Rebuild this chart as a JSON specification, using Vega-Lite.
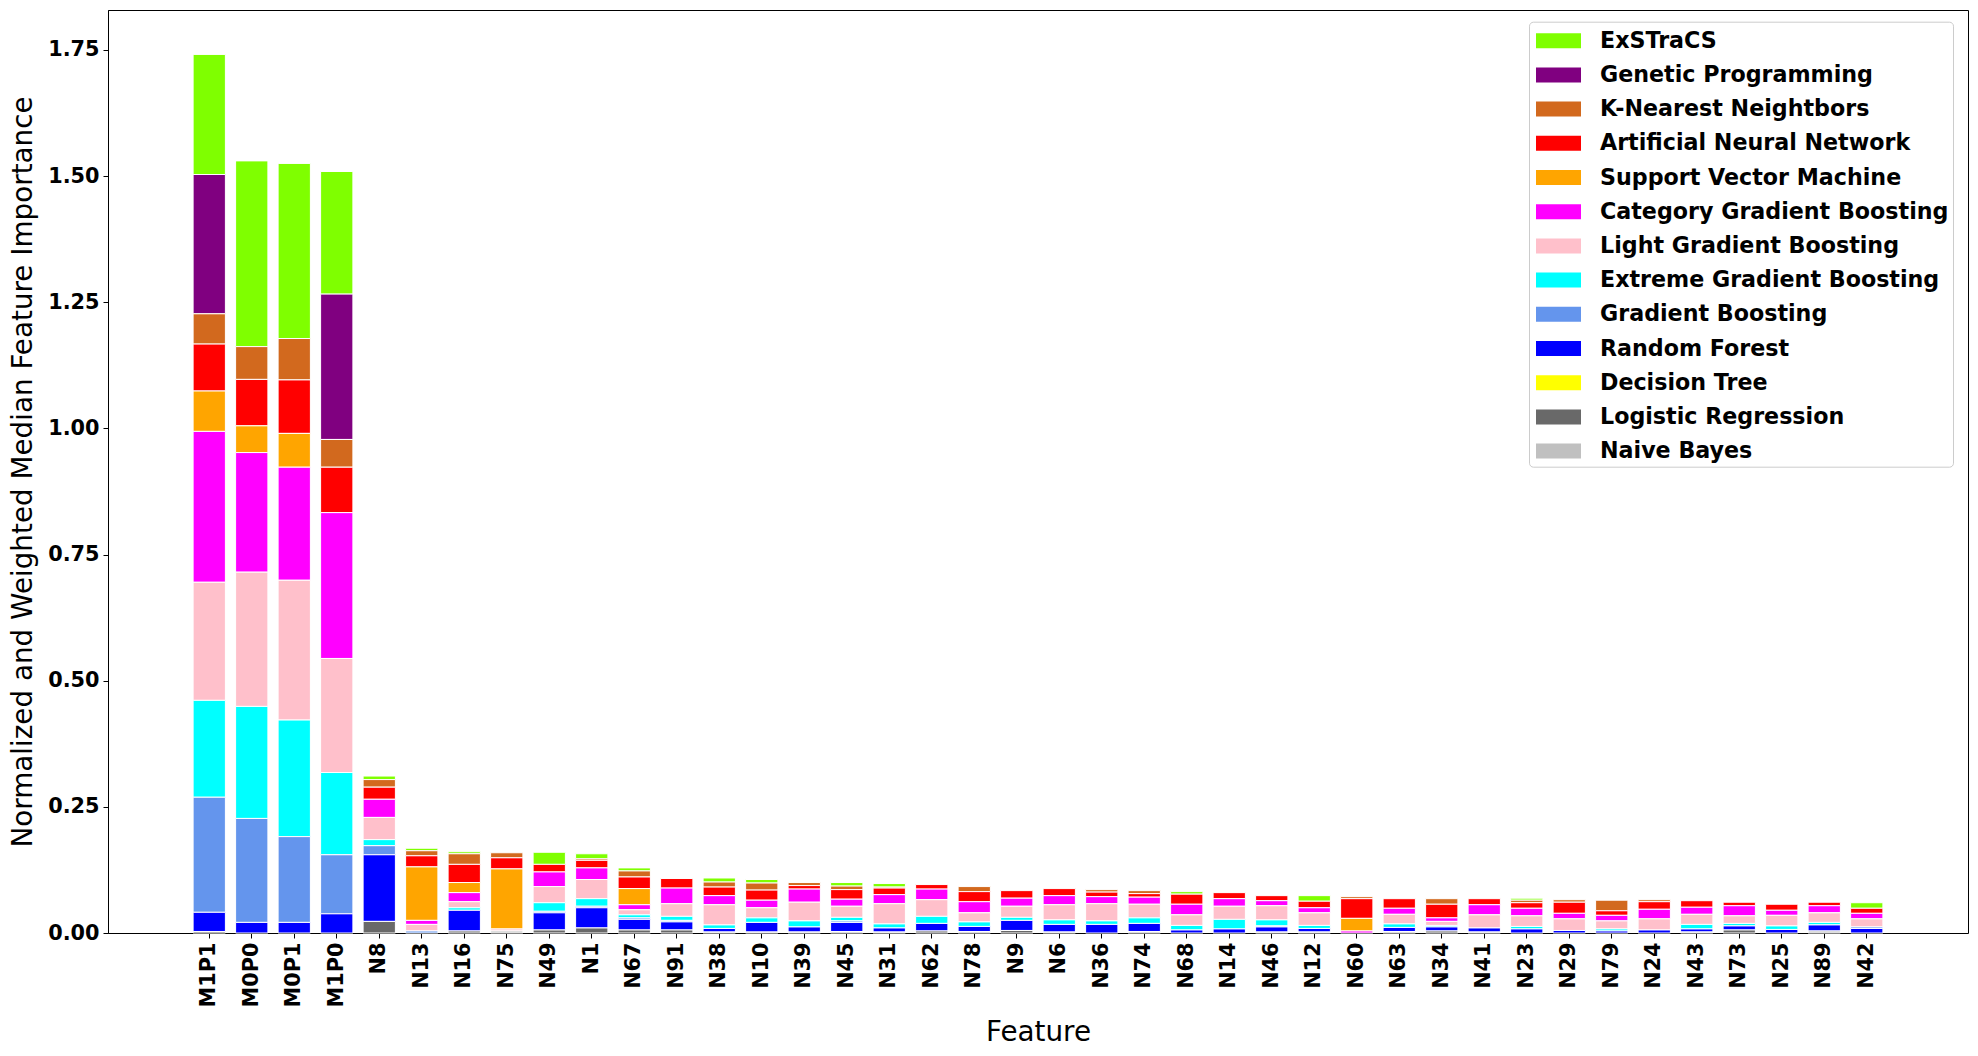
{
  "$schema": "https://vega.github.io/schema/vega-lite/v6.json",
  "width": 1860,
  "height": 923,
  "autosize": {"type": "none"},
  "padding": {"left": 108, "top": 10, "right": 10, "bottom": 123},
  "background": "white",
  "config": {
    "font": "DejaVu Sans",
    "view": {"stroke": "black", "strokeWidth": 1},
    "axis": {"grid": false, "domainColor": "black", "tickColor": "black", "labelColor": "black", "titleColor": "black", "labelFont": "DejaVu Sans", "titleFont": "DejaVu Sans", "labelFontWeight": "bold", "labelFontSize": 20.8, "titleFontSize": 27.8, "titleFontWeight": "normal", "tickSize": 5}
  },
  "datasets": {
    "stackorder": [
      {"Algorithm": "Naive Bayes", "Rank": 1},
      {"Algorithm": "Logistic Regression", "Rank": 2},
      {"Algorithm": "Decision Tree", "Rank": 3},
      {"Algorithm": "Random Forest", "Rank": 4},
      {"Algorithm": "Gradient Boosting", "Rank": 5},
      {"Algorithm": "Extreme Gradient Boosting", "Rank": 6},
      {"Algorithm": "Light Gradient Boosting", "Rank": 7},
      {"Algorithm": "Category Gradient Boosting", "Rank": 8},
      {"Algorithm": "Support Vector Machine", "Rank": 9},
      {"Algorithm": "Artificial Neural Network", "Rank": 10},
      {"Algorithm": "K-Nearest Neightbors", "Rank": 11},
      {"Algorithm": "Genetic Programming", "Rank": 12},
      {"Algorithm": "ExSTraCS", "Rank": 13}
    ]
  },
  "data": {"values": [
    {"Feature": "M1P1", "Logistic Regression": 0.003, "Random Forest": 0.038, "Gradient Boosting": 0.228, "Extreme Gradient Boosting": 0.192, "Light Gradient Boosting": 0.234, "Category Gradient Boosting": 0.299, "Support Vector Machine": 0.080, "Artificial Neural Network": 0.093, "K-Nearest Neightbors": 0.060, "Genetic Programming": 0.276, "ExSTraCS": 0.238},
    {"Feature": "M0P0", "Random Forest": 0.021, "Gradient Boosting": 0.206, "Extreme Gradient Boosting": 0.222, "Light Gradient Boosting": 0.266, "Category Gradient Boosting": 0.237, "Support Vector Machine": 0.053, "Artificial Neural Network": 0.092, "K-Nearest Neightbors": 0.065, "ExSTraCS": 0.368},
    {"Feature": "M0P1", "Random Forest": 0.021, "Gradient Boosting": 0.170, "Extreme Gradient Boosting": 0.231, "Light Gradient Boosting": 0.277, "Category Gradient Boosting": 0.224, "Support Vector Machine": 0.067, "Artificial Neural Network": 0.106, "K-Nearest Neightbors": 0.082, "ExSTraCS": 0.347},
    {"Feature": "M1P0", "Random Forest": 0.038, "Gradient Boosting": 0.117, "Extreme Gradient Boosting": 0.163, "Light Gradient Boosting": 0.226, "Category Gradient Boosting": 0.289, "Artificial Neural Network": 0.090, "K-Nearest Neightbors": 0.055, "Genetic Programming": 0.288, "ExSTraCS": 0.243},
    {"Feature": "N8", "Logistic Regression": 0.023, "Random Forest": 0.132, "Gradient Boosting": 0.018, "Extreme Gradient Boosting": 0.012, "Light Gradient Boosting": 0.044, "Category Gradient Boosting": 0.036, "Artificial Neural Network": 0.024, "K-Nearest Neightbors": 0.015, "ExSTraCS": 0.007},
    {"Feature": "N13", "Gradient Boosting": 0.004, "Light Gradient Boosting": 0.013, "Category Gradient Boosting": 0.008, "Support Vector Machine": 0.106, "Artificial Neural Network": 0.022, "K-Nearest Neightbors": 0.010, "ExSTraCS": 0.005},
    {"Feature": "N16", "Logistic Regression": 0.004, "Random Forest": 0.041, "Extreme Gradient Boosting": 0.005, "Light Gradient Boosting": 0.012, "Category Gradient Boosting": 0.018, "Support Vector Machine": 0.020, "Artificial Neural Network": 0.036, "K-Nearest Neightbors": 0.021, "ExSTraCS": 0.004},
    {"Feature": "N75", "Naive Bayes": 0.004, "Light Gradient Boosting": 0.004, "Support Vector Machine": 0.119, "Artificial Neural Network": 0.022, "K-Nearest Neightbors": 0.010},
    {"Feature": "N49", "Logistic Regression": 0.006, "Random Forest": 0.034, "Gradient Boosting": 0.003, "Extreme Gradient Boosting": 0.017, "Light Gradient Boosting": 0.032, "Category Gradient Boosting": 0.029, "Artificial Neural Network": 0.015, "ExSTraCS": 0.024},
    {"Feature": "N1", "Logistic Regression": 0.010, "Random Forest": 0.040, "Gradient Boosting": 0.003, "Extreme Gradient Boosting": 0.015, "Light Gradient Boosting": 0.038, "Category Gradient Boosting": 0.023, "Artificial Neural Network": 0.015, "K-Nearest Neightbors": 0.003, "ExSTraCS": 0.010},
    {"Feature": "N67", "Logistic Regression": 0.006, "Random Forest": 0.021, "Gradient Boosting": 0.003, "Extreme Gradient Boosting": 0.006, "Light Gradient Boosting": 0.010, "Category Gradient Boosting": 0.010, "Support Vector Machine": 0.032, "Artificial Neural Network": 0.023, "K-Nearest Neightbors": 0.012, "ExSTraCS": 0.006},
    {"Feature": "N91", "Logistic Regression": 0.006, "Random Forest": 0.016, "Gradient Boosting": 0.003, "Extreme Gradient Boosting": 0.008, "Light Gradient Boosting": 0.025, "Category Gradient Boosting": 0.031, "Artificial Neural Network": 0.019},
    {"Feature": "N38", "Naive Bayes": 0.002, "Random Forest": 0.007, "Extreme Gradient Boosting": 0.007, "Light Gradient Boosting": 0.040, "Category Gradient Boosting": 0.018, "Artificial Neural Network": 0.017, "K-Nearest Neightbors": 0.010, "ExSTraCS": 0.008},
    {"Feature": "N10", "Naive Bayes": 0.002, "Random Forest": 0.019, "Extreme Gradient Boosting": 0.009, "Light Gradient Boosting": 0.020, "Category Gradient Boosting": 0.015, "Artificial Neural Network": 0.020, "K-Nearest Neightbors": 0.014, "ExSTraCS": 0.007},
    {"Feature": "N39", "Naive Bayes": 0.002, "Random Forest": 0.010, "Extreme Gradient Boosting": 0.012, "Light Gradient Boosting": 0.037, "Category Gradient Boosting": 0.026, "Artificial Neural Network": 0.007, "K-Nearest Neightbors": 0.006},
    {"Feature": "N45", "Naive Bayes": 0.003, "Random Forest": 0.018, "Gradient Boosting": 0.003, "Extreme Gradient Boosting": 0.007, "Light Gradient Boosting": 0.022, "Category Gradient Boosting": 0.014, "Artificial Neural Network": 0.019, "K-Nearest Neightbors": 0.007, "ExSTraCS": 0.007},
    {"Feature": "N31", "Naive Bayes": 0.002, "Random Forest": 0.008, "Extreme Gradient Boosting": 0.008, "Light Gradient Boosting": 0.040, "Category Gradient Boosting": 0.018, "Artificial Neural Network": 0.013, "K-Nearest Neightbors": 0.002, "ExSTraCS": 0.007},
    {"Feature": "N62", "Logistic Regression": 0.004, "Random Forest": 0.015, "Extreme Gradient Boosting": 0.014, "Light Gradient Boosting": 0.033, "Category Gradient Boosting": 0.021, "Artificial Neural Network": 0.009},
    {"Feature": "N78", "Naive Bayes": 0.003, "Random Forest": 0.010, "Extreme Gradient Boosting": 0.009, "Light Gradient Boosting": 0.018, "Category Gradient Boosting": 0.022, "Artificial Neural Network": 0.020, "K-Nearest Neightbors": 0.010},
    {"Feature": "N9", "Logistic Regression": 0.005, "Random Forest": 0.020, "Extreme Gradient Boosting": 0.006, "Light Gradient Boosting": 0.022, "Category Gradient Boosting": 0.016, "Artificial Neural Network": 0.015},
    {"Feature": "N6", "Naive Bayes": 0.002, "Random Forest": 0.015, "Extreme Gradient Boosting": 0.009, "Light Gradient Boosting": 0.030, "Category Gradient Boosting": 0.018, "Artificial Neural Network": 0.014},
    {"Feature": "N36", "Random Forest": 0.017, "Extreme Gradient Boosting": 0.007, "Light Gradient Boosting": 0.034, "Category Gradient Boosting": 0.014, "Artificial Neural Network": 0.009, "K-Nearest Neightbors": 0.005},
    {"Feature": "N74", "Naive Bayes": 0.003, "Random Forest": 0.016, "Extreme Gradient Boosting": 0.011, "Light Gradient Boosting": 0.027, "Category Gradient Boosting": 0.014, "Artificial Neural Network": 0.007, "K-Nearest Neightbors": 0.006},
    {"Feature": "N68", "Random Forest": 0.006, "Extreme Gradient Boosting": 0.009, "Light Gradient Boosting": 0.021, "Category Gradient Boosting": 0.021, "Artificial Neural Network": 0.020, "ExSTraCS": 0.005},
    {"Feature": "N14", "Random Forest": 0.008, "Extreme Gradient Boosting": 0.019, "Light Gradient Boosting": 0.026, "Category Gradient Boosting": 0.015, "Artificial Neural Network": 0.012},
    {"Feature": "N46", "Naive Bayes": 0.002, "Random Forest": 0.010, "Gradient Boosting": 0.002, "Extreme Gradient Boosting": 0.012, "Light Gradient Boosting": 0.028, "Category Gradient Boosting": 0.010, "Artificial Neural Network": 0.010},
    {"Feature": "N12", "Naive Bayes": 0.002, "Random Forest": 0.007, "Extreme Gradient Boosting": 0.006, "Light Gradient Boosting": 0.025, "Category Gradient Boosting": 0.010, "Artificial Neural Network": 0.013, "ExSTraCS": 0.011},
    {"Feature": "N60", "Category Gradient Boosting": 0.004, "Support Vector Machine": 0.025, "Artificial Neural Network": 0.039, "K-Nearest Neightbors": 0.004},
    {"Feature": "N63", "Naive Bayes": 0.003, "Random Forest": 0.008, "Extreme Gradient Boosting": 0.007, "Light Gradient Boosting": 0.019, "Category Gradient Boosting": 0.012, "Artificial Neural Network": 0.019},
    {"Feature": "N34", "Logistic Regression": 0.004, "Random Forest": 0.008, "Extreme Gradient Boosting": 0.003, "Light Gradient Boosting": 0.008, "Category Gradient Boosting": 0.007, "Artificial Neural Network": 0.027, "K-Nearest Neightbors": 0.011},
    {"Feature": "N41", "Naive Bayes": 0.002, "Random Forest": 0.008, "Light Gradient Boosting": 0.026, "Category Gradient Boosting": 0.020, "Artificial Neural Network": 0.012},
    {"Feature": "N23", "Random Forest": 0.008, "Extreme Gradient Boosting": 0.005, "Light Gradient Boosting": 0.021, "Category Gradient Boosting": 0.015, "Artificial Neural Network": 0.011, "K-Nearest Neightbors": 0.005, "ExSTraCS": 0.004},
    {"Feature": "N29", "Random Forest": 0.005, "Light Gradient Boosting": 0.023, "Category Gradient Boosting": 0.011, "Artificial Neural Network": 0.022, "K-Nearest Neightbors": 0.005},
    {"Feature": "N79", "Random Forest": 0.004, "Extreme Gradient Boosting": 0.004, "Light Gradient Boosting": 0.016, "Category Gradient Boosting": 0.011, "Artificial Neural Network": 0.009, "K-Nearest Neightbors": 0.021},
    {"Feature": "N24", "Random Forest": 0.006, "Light Gradient Boosting": 0.022, "Category Gradient Boosting": 0.019, "Artificial Neural Network": 0.015, "K-Nearest Neightbors": 0.004},
    {"Feature": "N43", "Naive Bayes": 0.002, "Random Forest": 0.006, "Extreme Gradient Boosting": 0.009, "Light Gradient Boosting": 0.020, "Category Gradient Boosting": 0.014, "Artificial Neural Network": 0.013},
    {"Feature": "N73", "Logistic Regression": 0.006, "Random Forest": 0.008, "Extreme Gradient Boosting": 0.005, "Light Gradient Boosting": 0.015, "Category Gradient Boosting": 0.020, "Artificial Neural Network": 0.007},
    {"Feature": "N25", "Random Forest": 0.007, "Extreme Gradient Boosting": 0.007, "Light Gradient Boosting": 0.021, "Category Gradient Boosting": 0.010, "Artificial Neural Network": 0.012},
    {"Feature": "N89", "Naive Bayes": 0.004, "Random Forest": 0.012, "Extreme Gradient Boosting": 0.005, "Light Gradient Boosting": 0.019, "Category Gradient Boosting": 0.014, "Artificial Neural Network": 0.007},
    {"Feature": "N42", "Random Forest": 0.009, "Gradient Boosting": 0.003, "Light Gradient Boosting": 0.016, "Category Gradient Boosting": 0.011, "Artificial Neural Network": 0.010, "ExSTraCS": 0.011}
  ]},
  "transform": [
    {"fold": ["ExSTraCS", "Genetic Programming", "K-Nearest Neightbors", "Artificial Neural Network", "Support Vector Machine", "Category Gradient Boosting", "Light Gradient Boosting", "Extreme Gradient Boosting", "Gradient Boosting", "Random Forest", "Decision Tree", "Logistic Regression", "Naive Bayes"], "as": ["Algorithm", "Importance"]},
    {"filter": "datum.Importance > 0"},
    {"lookup": "Algorithm", "from": {"data": {"name": "stackorder"}, "key": "Algorithm", "fields": ["Rank"]}}
  ],
  "mark": {"type": "bar", "stroke": "white", "strokeWidth": 1},
  "encoding": {
    "x": {"field": "Feature", "type": "nominal", "sort": null,
      "scale": {"paddingInner": 0.24, "paddingOuter": 1, "range": [42.6, 1817.4]},
      "axis": {"title": "Feature", "labelAngle": -90, "titlePadding": 12, "labelPadding": 4}},
    "y": {"field": "Importance", "type": "quantitative", "stack": "zero",
      "scale": {"domain": [0, 1.829], "nice": false},
      "axis": {"title": "Normalized and Weighted Median Feature Importance", "values": [0, 0.25, 0.5, 0.75, 1.0, 1.25, 1.5, 1.75], "format": ".2f", "titlePadding": 10, "labelPadding": 4}},
    "order": {"field": "Rank", "type": "quantitative", "sort": "ascending"},
    "color": {"field": "Algorithm", "type": "nominal",
      "sort": ["ExSTraCS", "Genetic Programming", "K-Nearest Neightbors", "Artificial Neural Network", "Support Vector Machine", "Category Gradient Boosting", "Light Gradient Boosting", "Extreme Gradient Boosting", "Gradient Boosting", "Random Forest", "Decision Tree", "Logistic Regression", "Naive Bayes"],
      "scale": {"domain": ["ExSTraCS", "Genetic Programming", "K-Nearest Neightbors", "Artificial Neural Network", "Support Vector Machine", "Category Gradient Boosting", "Light Gradient Boosting", "Extreme Gradient Boosting", "Gradient Boosting", "Random Forest", "Decision Tree", "Logistic Regression", "Naive Bayes"],
        "range": ["#7FFF00", "#800080", "#D2691E", "#FF0000", "#FFA500", "#FF00FF", "#FFC0CB", "#00FFFF", "#6495ED", "#0000FF", "#FFFF00", "#696969", "#C0C0C0"]},
      "legend": {"title": null, "orient": "none", "legendX": 1421, "legendY": 11.7,
        "symbolType": "M-0.8,-0.5H2.2V0.5H-0.8Z", "symbolSize": 900, "symbolStrokeWidth": 0, "symbolOpacity": 1,
        "labelFontSize": 22.2, "labelFontWeight": "bold", "labelFont": "DejaVu Sans", "labelColor": "black", "labelLimit": 0,
        "labelOffset": 37, "rowPadding": 7.2, "padding": 4,
        "strokeColor": "#cccccc", "cornerRadius": 4, "fillColor": "rgba(255,255,255,0.8)"}}
  }
}
